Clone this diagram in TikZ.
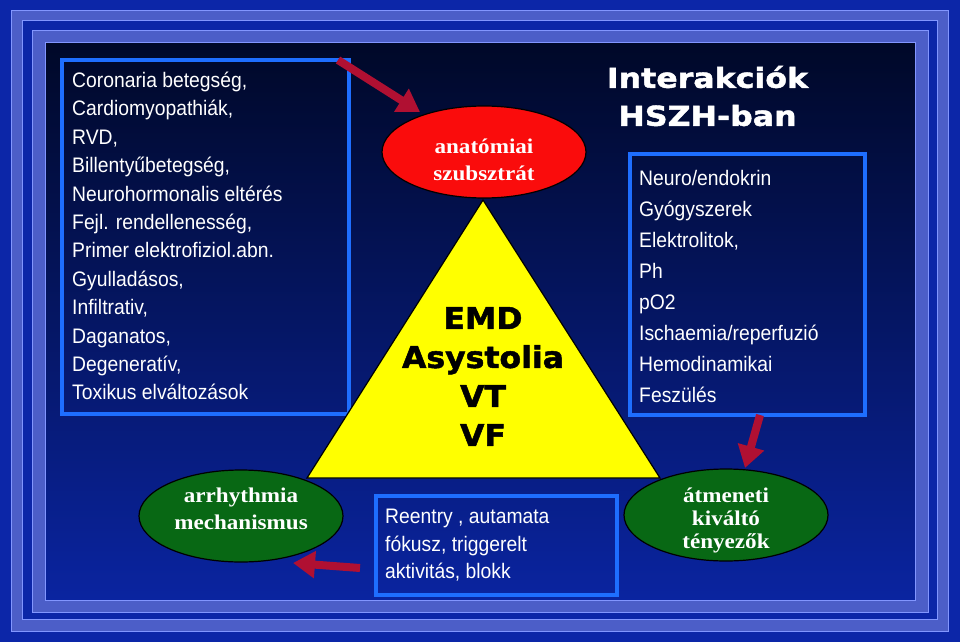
\documentclass[tikz,border=0pt]{standalone}
\usepackage{fontspec}
\usetikzlibrary{shapes.geometric,arrows.meta}
\newfontfamily\bodyf{Liberation Sans}[FakeStretch=0.92]
\newfontfamily\heavyf{DejaVu Sans}[FakeStretch=1.05,BoldFeatures={FakeBold=1.6}]
\newfontfamily\titlef{DejaVu Sans}[FakeStretch=1.15,BoldFeatures={FakeBold=1.6}]
\newfontfamily\serifb{Liberation Serif}[FakeStretch=1.1]
\definecolor{framedark}{RGB}{12,38,168}
\definecolor{peri}{RGB}{76,94,200}
\definecolor{perilight}{RGB}{130,150,255}
\definecolor{bgtop}{RGB}{0,8,40}
\definecolor{bgbot}{RGB}{10,36,160}
\definecolor{boxblue}{RGB}{30,110,255}
\definecolor{arrowred}{RGB}{176,16,50}
\definecolor{ovalred}{RGB}{250,12,12}
\definecolor{ovalgreen}{RGB}{8,104,20}
\definecolor{triyellow}{RGB}{255,255,0}
\tikzset{
  infobox/.style={draw=boxblue, line width=4pt, inner sep=0, anchor=north west},
  listtext/.style={text=white, font=\bodyf\fontsize{21}{28.4}\selectfont, align=left, inner sep=0, anchor=west},
  oval/.style={ellipse, draw=black, line width=1.2pt, minimum width=204pt, minimum height=92pt, inner sep=0},
  ovaltext/.style={text=white, font=\serifb\bfseries\fontsize{21}{27}\selectfont, align=center, inner sep=0},
  heavytext/.style={text=black, font=\heavyf\bfseries\fontsize{30}{39}\selectfont, align=center, inner sep=0},
  titletext/.style={text=white, font=\titlef\bfseries\fontsize{27.5}{38}\selectfont, align=center, inner sep=0},
  redarrow/.style={draw=arrowred, line width=8pt, -{Triangle[width=26pt,length=22pt]}},
  bandline/.style={draw=perilight, line width=1pt}
}
\begin{document}
\begin{tikzpicture}[x=1pt,y=-1pt]
\useasboundingbox (0,0) rectangle (960,642);
% frame bands
\fill[framedark] (0,0) rectangle (960,642);
\filldraw[fill=peri, bandline] (11,10.5) rectangle (948,631.5);
\filldraw[fill=framedark, bandline] (22,21) rectangle (937,619.5);
\filldraw[fill=peri, bandline] (32,31) rectangle (928,612);
\shade[top color=bgtop, bottom color=bgbot] (45,43) rectangle (915,600);
\draw[bandline] (45,43) rectangle (915,600);

% left box
\node[infobox, minimum width=287pt, minimum height=354pt] (causes) at (60,58) {};
\node[listtext] (causestext) at (72,236) {Coronaria betegség,\\Cardiomyopathiák,\\RVD,\\Billentyűbetegség,\\Neurohormonalis eltérés\\Fejl. rendellenesség,\\Primer elektrofiziol.abn.\\Gyulladásos,\\Infiltrativ,\\Daganatos,\\Degeneratív,\\Toxikus elváltozások};

% title
\node[titletext] (title) at (707.5,96) {Interakciók\\HSZH-ban};

% right box
\node[infobox, minimum width=235pt, minimum height=261pt] (inter) at (628,152) {};
\node[listtext, font=\bodyf\fontsize{21}{31}\selectfont] (intertext) at (639,286.5) {Neuro/endokrin\\Gyógyszerek\\Elektrolitok,\\Ph\\pO2\\Ischaemia/reperfuzió\\Hemodinamikai\\Feszülés};

% triangle
\coordinate (apex) at (483,200);
\coordinate (bl) at (307,478);
\coordinate (br) at (660,478);
\filldraw[fill=triyellow, draw=black, line width=1.2pt] (apex) -- (bl) -- (br) -- cycle;
\node[heavytext] (arr) at (483,376.5) {EMD\\Asystolia\\VT\\VF};

% ovals
\node[oval, fill=ovalred] (anat) at (484,152) {};
\node[ovaltext] (anattext) at (484,160) {anatómiai\\szubsztrát};
\node[oval, fill=ovalgreen] (mech) at (241,516) {};
\node[ovaltext] (mechtext) at (241,509) {arrhythmia\\mechanismus};
\node[oval, fill=ovalgreen] (trig) at (726,515) {};
\node[ovaltext, font=\serifb\bfseries\fontsize{21}{23}\selectfont] (trigtext) at (726,520) {átmeneti\\kiváltó\\tényezők};

% bottom box
\node[infobox, minimum width=241pt, minimum height=99pt] (mechbox) at (374,494) {};
\node[listtext, font=\bodyf\fontsize{21}{27.5}\selectfont] (mechboxtext) at (385,545.5) {Reentry , autamata\\fókusz, triggerelt\\aktivitás, blokk};

% arrows
\coordinate (a1s) at (338,60);
\coordinate (a1e) at (420,112);
\coordinate (a2s) at (760,415);
\coordinate (a2e) at (745,468);
\coordinate (a3s) at (360,568);
\coordinate (a3e) at (293,563);
\draw[redarrow] (a1s) -- (a1e);
\draw[redarrow] (a2s) -- (a2e);
\draw[redarrow] (a3s) -- (a3e);
\end{tikzpicture}
\end{document}
